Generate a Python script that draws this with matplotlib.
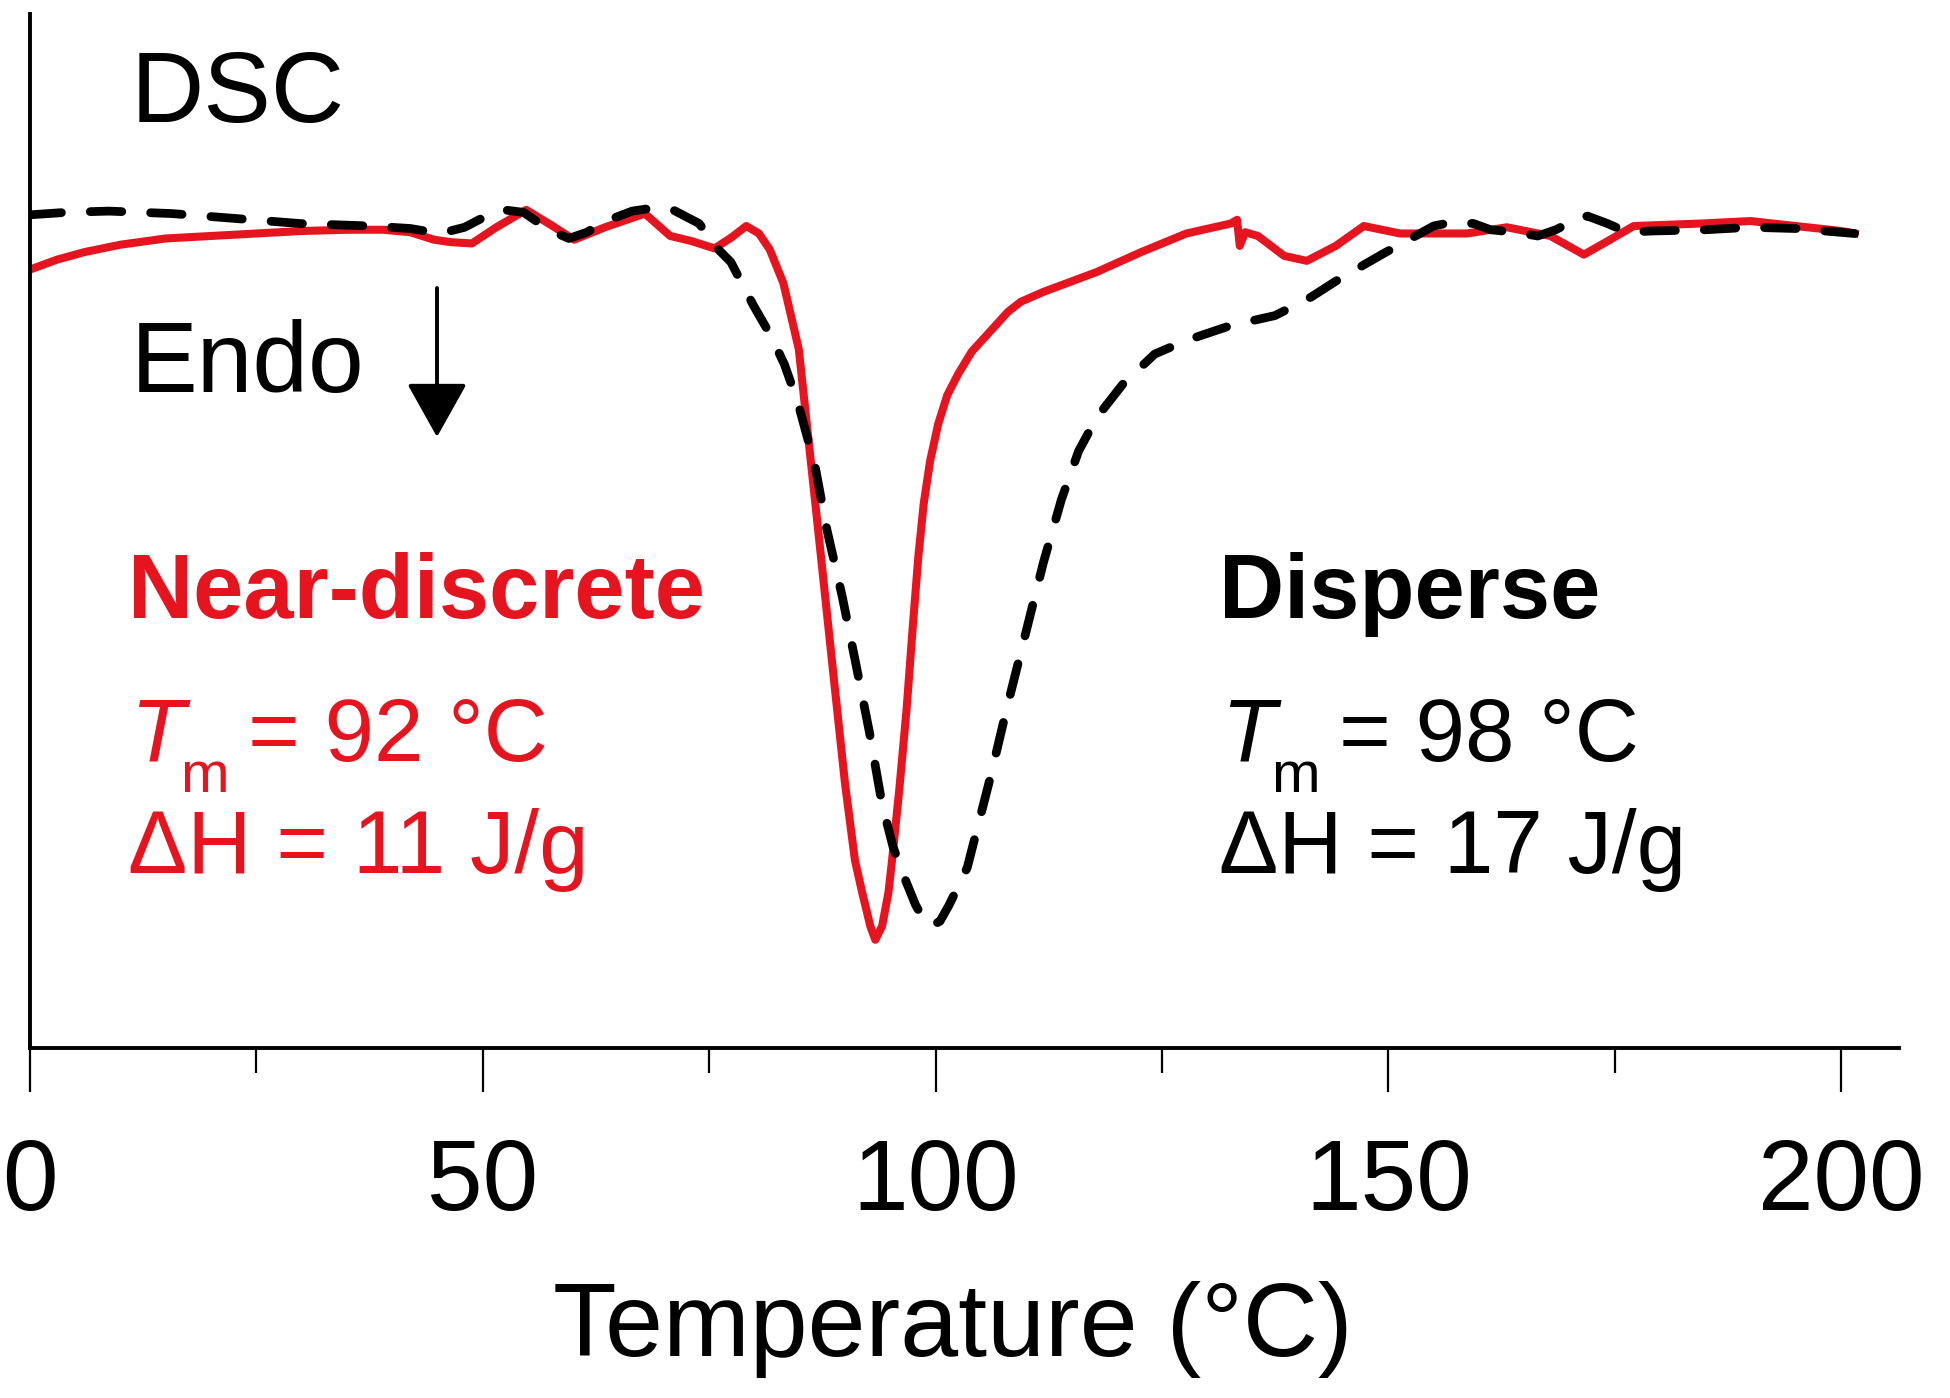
import numpy as np
import matplotlib
matplotlib.use('Agg')
import matplotlib.pyplot as plt
from matplotlib.ticker import MultipleLocator

plt.rcParams['font.family'] = ['Liberation Sans', 'DejaVu Sans']

# DSC traces (heat flow in arbitrary units, endo down)
near_T = [0, 3, 6, 10, 15, 20, 25, 30, 35, 39, 42, 44.6, 46.5, 48.8, 51.5, 54.8,
          57.5, 60.1, 63.5, 67.9, 70.7, 73, 75.6, 77.5, 79.1, 80.5, 81.7, 83.2,
          84.9, 86.8, 88.8, 90.0, 91.1, 91.9, 92.8, 93.35, 94.1, 94.8, 95.2, 96.0,
          96.8, 97.5, 98.1, 98.7, 99.4, 100.3, 101.3, 102.5, 104, 106.0, 108,
          109.4, 111.9, 117.8, 122.7, 127.7, 132.6, 133.3, 133.6, 134.2, 135.6,
          138.5, 141, 144.2, 147.3, 151.3, 158.7, 163.1, 167.9, 171.6, 174.5,
          177.1, 184.5, 190, 195, 200, 201.5]
near_H = [6.26, 6.34, 6.40, 6.46, 6.51, 6.53, 6.55, 6.57, 6.58, 6.58, 6.56, 6.50,
          6.48, 6.47, 6.60, 6.74, 6.62, 6.50, 6.60, 6.71, 6.53, 6.49, 6.43, 6.52,
          6.61, 6.55, 6.42, 6.15, 5.62, 4.33, 2.95, 2.13, 1.51, 1.25, 0.98, 0.87,
          0.98, 1.25, 1.51, 2.08, 2.72, 3.40, 3.95, 4.38, 4.72, 5.02, 5.25, 5.42,
          5.60, 5.76, 5.92, 6.00, 6.08, 6.24, 6.40, 6.55, 6.63, 6.66, 6.45, 6.56,
          6.53, 6.37, 6.33, 6.45, 6.61, 6.55, 6.55, 6.60, 6.53, 6.38, 6.50, 6.61,
          6.63, 6.65, 6.61, 6.57, 6.55]

disp_T = [0, 4, 8.7, 15.7, 22.8, 29.8, 37.6, 42, 45.3, 48, 50.9, 52.3, 54.5, 57.3,
          59.5, 61.5, 63.6, 66.5, 69.3, 71, 73.9, 75.9, 77.4, 79.9, 81.8, 83.3,
          84.8, 86.7, 88.0, 89.7, 91.2, 92.7, 94.1, 95.3, 96.4, 97.8, 98.8, 99.5,
          100.5, 101.5, 103.5, 106.0, 107.9, 109.9, 111.9, 113.9, 115.8, 117.8,
          120.7, 124.2, 127.7, 132.6, 137.5, 141.5, 144.5, 149.5, 155, 157, 159.4,
          161.3, 164, 166.5, 168.5, 170.9, 172, 174.2, 176.4, 179.1, 185, 190, 195,
          201.5]
disp_H = [6.70, 6.72, 6.73, 6.71, 6.67, 6.63, 6.61, 6.59, 6.55, 6.60, 6.71, 6.74,
          6.72, 6.58, 6.51, 6.56, 6.65, 6.73, 6.76, 6.74, 6.63, 6.43, 6.32, 5.97,
          5.73, 5.50, 5.19, 4.68, 4.17, 3.63, 3.09, 2.54, 1.96, 1.62, 1.40, 1.15,
          1.02, 0.98, 1.02, 1.15, 1.45, 2.16, 2.74, 3.32, 3.90, 4.41, 4.80, 5.07,
          5.34, 5.58, 5.69, 5.81, 5.89, 6.04, 6.18, 6.39, 6.61, 6.64, 6.63, 6.58,
          6.56, 6.53, 6.58, 6.67, 6.69, 6.63, 6.56, 6.57, 6.58, 6.60, 6.59, 6.55]

x_major = [0, 50, 100, 150, 200]

RED = '#E6141E'
W, H = 1950, 1398


def px(x, y):
    # pixel position (from top-left) -> figure fraction
    return x / W, 1 - y / H


fig = plt.figure(figsize=(19.5, 13.98), dpi=100)
ax = fig.add_axes([30 / W, (H - 1048) / H, (1899 - 30) / W, (1048 - 14) / H])

ax.plot(near_T, near_H, color=RED, lw=5.8, solid_joinstyle='round', zorder=2)
ax.plot(disp_T, disp_H, color='black', lw=6.3, dashes=(3.6, 3.3),
        dash_capstyle='round', zorder=3)

ax.set_xlim(0, 206.4)
ax.set_ylim(0, 8.315)
ax.set_xticks(x_major)
ax.xaxis.set_minor_locator(MultipleLocator(25))
ax.set_yticks([])
ax.tick_params(axis='x', which='major', direction='out', length=32, width=1.6,
               labelsize=72, pad=32)
ax.tick_params(axis='x', which='minor', direction='out', length=18, width=1.6)
for s in ['top', 'right']:
    ax.spines[s].set_visible(False)
for s in ['left', 'bottom']:
    ax.spines[s].set_linewidth(2.8)

fig.text(*px(953, 1356), 'Temperature (°C)', fontsize=75, ha='center', va='baseline')

fig.text(*px(131, 122), 'DSC', fontsize=73, va='baseline')
fig.text(*px(131, 392), 'Endo', fontsize=72, va='baseline')
ax.annotate('', xy=(437, H - 437), xytext=(437, H - 288),
            xycoords='figure pixels', textcoords='figure pixels',
            arrowprops=dict(arrowstyle='-|>,head_length=34,head_width=19',
                            mutation_scale=1, lw=2.8, color='black',
                            shrinkA=0, shrinkB=0))

# annotations for the two samples
for x0, col, name, tm, dh in [(128, RED, 'Near-discrete', '= 92 °C', 'ΔH = 11 J/g'),
                              (1219, 'black', 'Disperse', '= 98 °C', 'ΔH = 17 J/g')]:
    fig.text(*px(x0, 618), name, fontsize=65, fontweight='bold', color=col, va='baseline')
    fig.text(*px(x0 + 2, 761), 'T', fontsize=64, style='italic', color=col, va='baseline')
    fig.text(*px(x0 + 52, 792), 'm', fontsize=42, color=col, va='baseline')
    fig.text(*px(x0 + 120, 761), tm, fontsize=64, color=col, va='baseline')
    fig.text(*px(x0, 873), dh, fontsize=64, color=col, va='baseline')

fig.savefig('out.png', dpi=100)
